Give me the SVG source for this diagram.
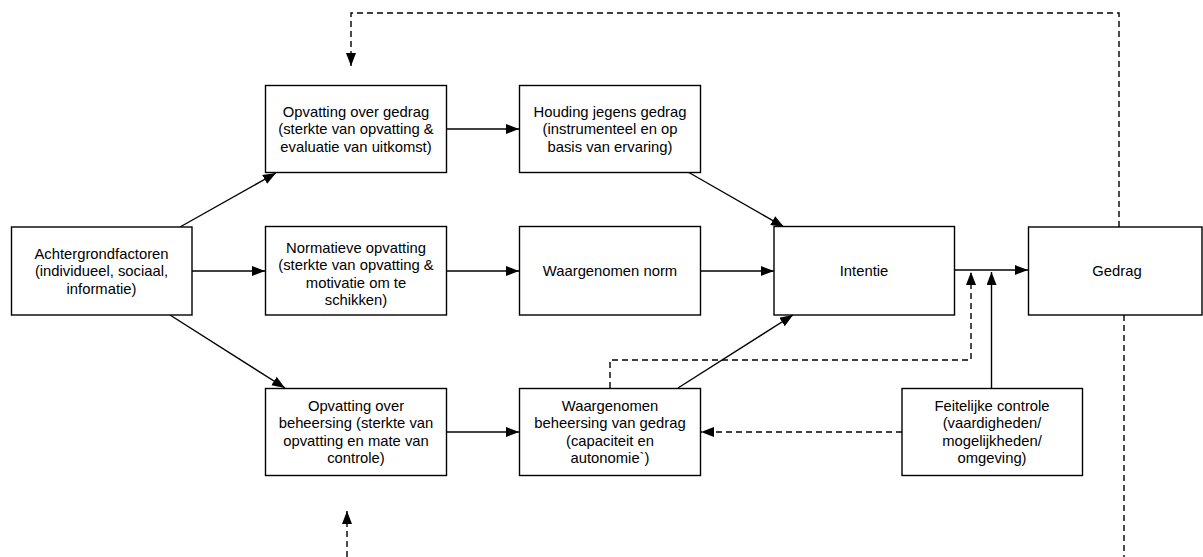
<svg xmlns="http://www.w3.org/2000/svg" width="1203" height="557" viewBox="0 0 1203 557">
  <style>
    .box { fill: #ffffff; stroke: #000000; stroke-width: 1.4; }
    .lbl { font-family: "Liberation Sans", Arial, sans-serif; font-size: 14.8px; fill: #000000; text-anchor: middle; dominant-baseline: central; }
    .solid { fill: none; stroke: #000000; stroke-width: 1.4; }
    .dash { fill: none; stroke: #000000; stroke-width: 1.4; stroke-dasharray: 6 4; }
  </style>
  <defs>
    <marker id="arrow" markerUnits="userSpaceOnUse" markerWidth="14" markerHeight="11" refX="13" refY="5" orient="auto">
      <path d="M0,0 L13,5 L0,10 z" fill="#000000"/>
    </marker>
  </defs>
  <rect width="1203" height="557" fill="#ffffff"/>

  <!-- connectors -->
  <g id="connectors">
    <line class="solid" x1="180" y1="227" x2="276" y2="173" marker-end="url(#arrow)"/>
    <line class="solid" x1="192" y1="271" x2="265" y2="271" marker-end="url(#arrow)"/>
    <line class="solid" x1="170" y1="315" x2="285" y2="388" marker-end="url(#arrow)"/>
    <line class="solid" x1="446" y1="129" x2="519" y2="129" marker-end="url(#arrow)"/>
    <line class="solid" x1="446" y1="271" x2="519" y2="271" marker-end="url(#arrow)"/>
    <line class="solid" x1="446" y1="432" x2="519" y2="432" marker-end="url(#arrow)"/>
    <line class="solid" x1="688" y1="172" x2="784" y2="227" marker-end="url(#arrow)"/>
    <line class="solid" x1="701" y1="271" x2="774" y2="271" marker-end="url(#arrow)"/>
    <line class="solid" x1="678" y1="388" x2="793" y2="315" marker-end="url(#arrow)"/>
    <line class="solid" x1="954" y1="270" x2="1028" y2="270" marker-end="url(#arrow)"/>
    <line class="solid" x1="991.5" y1="388" x2="991.5" y2="272" marker-end="url(#arrow)"/>
    <polyline class="dash" points="610,388 610,360 971,360 971,272" marker-end="url(#arrow)"/>
    <line class="dash" x1="902" y1="432" x2="701" y2="432" marker-end="url(#arrow)"/>
    <polyline class="dash" points="1119,227 1119,13 351,13 351,66" marker-end="url(#arrow)"/>
    <line class="dash" x1="1124" y1="315" x2="1124" y2="557"/>
    <line class="dash" x1="347" y1="557" x2="347" y2="511" marker-end="url(#arrow)"/>
  </g>

  <g id="achtergrondfactoren">
    <rect class="box" x="11.5" y="227" width="180.5" height="88"/>
    <text class="lbl" x="101.5" y="253.5">Achtergrondfactoren</text>
    <text class="lbl" x="101.5" y="271">(individueel, sociaal,</text>
    <text class="lbl" x="101.5" y="288.5">informatie)</text>
  </g>

  <g id="opvatting-gedrag">
    <rect class="box" x="265.5" y="85.5" width="181" height="87"/>
    <text class="lbl" x="356" y="111.5">Opvatting over gedrag</text>
    <text class="lbl" x="356" y="129">(sterkte van opvatting &amp;</text>
    <text class="lbl" x="356" y="146.5">evaluatie van uitkomst)</text>
  </g>

  <g id="normatieve-opvatting">
    <rect class="box" x="265.5" y="226.5" width="181" height="88.5"/>
    <text class="lbl" x="356" y="247.5">Normatieve opvatting</text>
    <text class="lbl" x="356" y="265">(sterkte van opvatting &amp;</text>
    <text class="lbl" x="356" y="282.5">motivatie om te</text>
    <text class="lbl" x="356" y="300">schikken)</text>
  </g>

  <g id="opvatting-beheersing">
    <rect class="box" x="265.5" y="388.5" width="181" height="87"/>
    <text class="lbl" x="356" y="405.5">Opvatting over</text>
    <text class="lbl" x="356" y="423">beheersing (sterkte van</text>
    <text class="lbl" x="356" y="440.5">opvatting en mate van</text>
    <text class="lbl" x="356" y="458">controle)</text>
  </g>

  <g id="houding">
    <rect class="box" x="519.5" y="85.5" width="181" height="87"/>
    <text class="lbl" x="610" y="111.5">Houding jegens gedrag</text>
    <text class="lbl" x="610" y="129">(instrumenteel en op</text>
    <text class="lbl" x="610" y="146.5">basis van ervaring)</text>
  </g>

  <g id="waargenomen-norm">
    <rect class="box" x="519.5" y="226.5" width="181" height="88.5"/>
    <text class="lbl" x="610" y="271">Waargenomen norm</text>
  </g>

  <g id="waargenomen-beheersing">
    <rect class="box" x="519.5" y="388.5" width="181" height="87"/>
    <text class="lbl" x="610" y="405.5">Waargenomen</text>
    <text class="lbl" x="610" y="423">beheersing van gedrag</text>
    <text class="lbl" x="610" y="440.5">(capaciteit en</text>
    <text class="lbl" x="610" y="458">autonomie`)</text>
  </g>

  <g id="intentie">
    <rect class="box" x="774" y="226.5" width="180.5" height="88.5"/>
    <text class="lbl" x="864" y="271">Intentie</text>
  </g>

  <g id="gedrag">
    <rect class="box" x="1028.5" y="227" width="173.5" height="88"/>
    <text class="lbl" x="1117" y="271">Gedrag</text>
  </g>

  <g id="feitelijke-controle">
    <rect class="box" x="902" y="388.5" width="180.5" height="87"/>
    <text class="lbl" x="992" y="405.5">Feitelijke controle</text>
    <text class="lbl" x="992" y="423">(vaardigheden/</text>
    <text class="lbl" x="992" y="440.5">mogelijkheden/</text>
    <text class="lbl" x="992" y="458">omgeving)</text>
  </g>
</svg>
